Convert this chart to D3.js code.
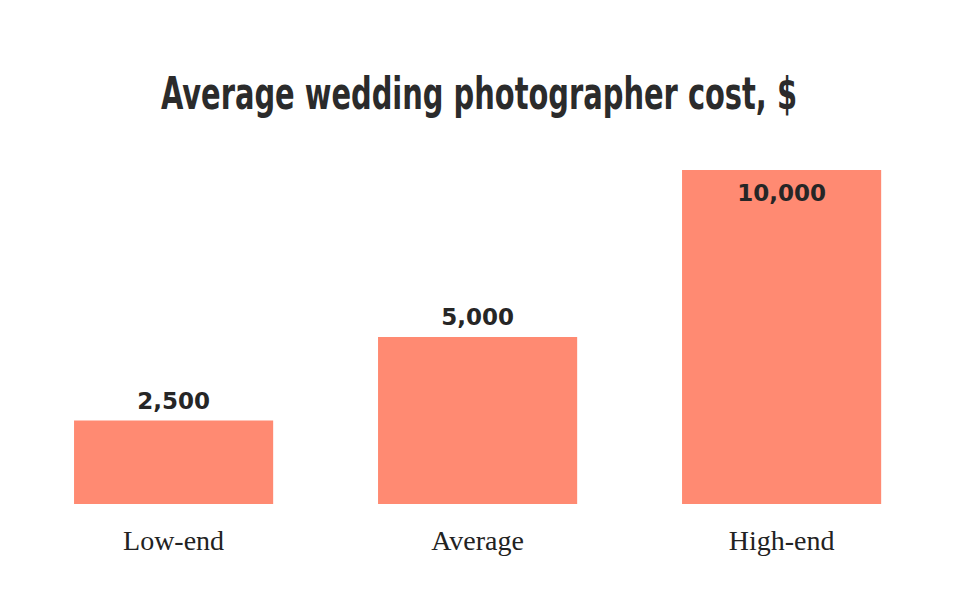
<!DOCTYPE html>
<html>
<head>
<meta charset="utf-8">
<script src="https://cdn.jsdelivr.net/npm/d3@7"></script>
<style>
  body { margin: 0; background: #fff; }
</style>
</head>
<body>
<svg id="chart" width="963" height="607"></svg>
<script>
var categories = ["Low-end", "Average", "High-end"];
var costs = [2500, 5000, 10000];
var chartTitle = "Average wedding photographer cost, $";

var svg = d3.select("#chart");
var width = 963, height = 607;

svg.append("rect").attr("width", width).attr("height", height).attr("fill", "#fff");

var x = d3.scaleBand()
  .domain(categories)
  .range([21.6, 933.6])
  .paddingInner(0.345)
  .paddingOuter(0.1725);

var y = d3.scaleLinear()
  .domain([0, 10000])
  .range([504, 170]);

var fmt = d3.format(",");

// title
svg.append("text")
  .attr("x", 479)
  .attr("y", 109)
  .attr("text-anchor", "middle")
  .attr("font-family", '"Liberation Sans Narrow", "DejaVu Sans Condensed", sans-serif')
  .attr("font-weight", "bold")
  .attr("font-size", "45px")
  .attr("textLength", 636)
  .attr("lengthAdjust", "spacingAndGlyphs")
  .style("fill", "#2b2b2b")
  .text(chartTitle);

var data = categories.map(function (c, i) { return { name: c, value: costs[i] }; });

svg.append("g").selectAll("rect")
  .data(data)
  .enter().append("rect")
  .attr("x", function (d) { return x(d.name); })
  .attr("y", function (d) { return y(d.value); })
  .attr("width", x.bandwidth())
  .attr("height", function (d) { return y(0) - y(d.value); })
  .style("fill", "#ff8a72");

// value labels: above the bar, or inside if it hits the top
svg.append("g").selectAll("text")
  .data(data)
  .enter().append("text")
  .attr("x", function (d) { return x(d.name) + x.bandwidth() / 2; })
  .attr("y", function (d) {
    return d.value >= 10000 ? y(d.value) + 31 : y(d.value) - 12;
  })
  .attr("text-anchor", "middle")
  .attr("font-family", '"DejaVu Sans", sans-serif')
  .attr("font-weight", "bold")
  .attr("font-size", "23px")
  .style("fill", "#262626")
  .text(function (d) { return fmt(d.value); });

// category labels
svg.append("g").selectAll("text")
  .data(data)
  .enter().append("text")
  .attr("x", function (d) { return x(d.name) + x.bandwidth() / 2; })
  .attr("y", 550)
  .attr("text-anchor", "middle")
  .attr("font-family", '"Liberation Serif", serif')
  .attr("font-size", "28px")
  .style("fill", "#222")
  .text(function (d) { return d.name; });
</script>
</body>
</html>
